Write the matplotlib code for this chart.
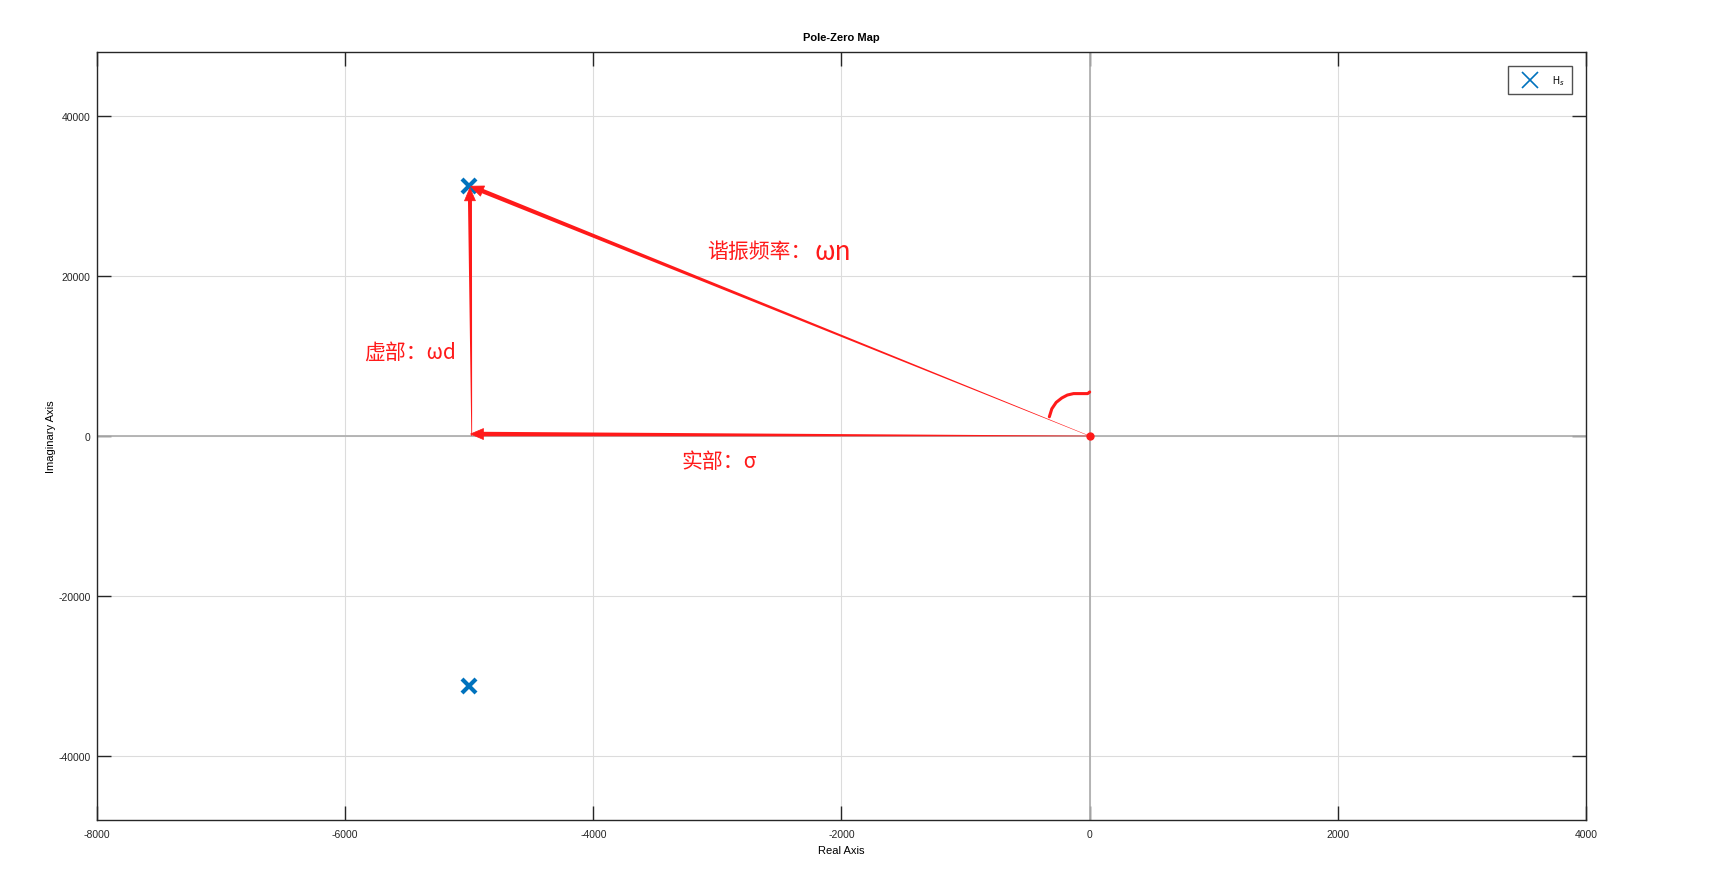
import numpy as np
import matplotlib
matplotlib.use("Agg")
import matplotlib.pyplot as plt
from matplotlib.lines import Line2D
from matplotlib.patches import Polygon

plt.rcParams['font.family'] = ['Liberation Sans', 'DejaVu Sans']
plt.rcParams['axes.unicode_minus'] = False

# ---- data ----
pole_re = [-5000, -5000]
pole_im = [31225, -31225]
xlim = [-8000, 4000]
ylim = [-48000, 48000]
xticks = [-8000, -6000, -4000, -2000, 0, 2000, 4000]
yticks = [-40000, -20000, 0, 20000, 40000]
legend_label = 'H$_s$'
label_wn_a = '谐振频率：'
label_wn_b = 'ωn'
label_wd = '虚部：ωd'
label_sigma = '实部：σ'
label_pos_wn = (-3080, 23100)
label_pos_wn_b = (-2215, 23100)
label_pos_wd = (-5850, 10600)
label_pos_sigma = (-3290, -3100)
arc_x = [-325, -305, -270, -225, -180, -130, -16, 0]
arc_y = [2400, 3400, 4200, 4750, 5120, 5300, 5300, 5500]

W, H, DPI = 1714, 887, 100
fig = plt.figure(figsize=(W / DPI, H / DPI), dpi=DPI)
ax = fig.add_axes([97 / W, 1 - 821 / H, (1586 - 97) / W, (821 - 53) / H])

ax.set_xlim(xlim)
ax.set_ylim(ylim)
ax.set_xticks(xticks)
ax.set_yticks(yticks)
ax.tick_params(direction='in', length=10, width=1.0, top=True, right=True,
               labelsize=7.5, colors='#262626')
ax.tick_params(axis='x', pad=6.5)
ax.tick_params(axis='y', pad=4.5)
ax.grid(True, color='#dcdcdc', linewidth=0.8)
ax.set_axisbelow(True)
for s in ax.spines.values():
    s.set_color('#262626')
    s.set_linewidth(1.0)
ax.axhline(0, color='#b0b0b0', linewidth=1.3, zorder=1)
ax.axvline(0, color='#b0b0b0', linewidth=1.3, zorder=1)

ax.set_title('Pole-Zero Map', fontsize=8, fontweight='bold', pad=9)
ax.set_xlabel('Real Axis', fontsize=8, labelpad=4)
ax.set_ylabel('Imaginary Axis', fontsize=8, labelpad=2)

ax.plot(pole_re, pole_im, linestyle='none', marker='x', color='#0072BD',
        markersize=10, markeredgewidth=3, zorder=5)

red = '#ff1a1a'


def tapered_arrow(p0, p1, w0, w1, head_len=13, head_w=11):
    T = ax.transData
    a = np.array(T.transform(p0))
    b = np.array(T.transform(p1))
    d = b - a
    L = np.hypot(*d)
    u = d / L
    n = np.array([-u[1], u[0]])
    bb = b - u * head_len * 0.9
    body = [a + n * w0 / 2, bb + n * w1 / 2, bb - n * w1 / 2, a - n * w0 / 2]
    fig.add_artist(Polygon(body, closed=True, transform=None, facecolor=red,
                           edgecolor='none', zorder=6))
    hb = b - u * head_len
    head = [b, hb + n * head_w / 2, hb - n * head_w / 2]
    fig.add_artist(Polygon(head, closed=True, transform=None, facecolor=red,
                           edgecolor=red, linewidth=0.5, zorder=7))


tapered_arrow((0, 0), (pole_re[0] + 10, pole_im[0]), 0.4, 4.5)
tapered_arrow((0, 0), (pole_re[0] + 10, 250), 0.6, 4.5)
tapered_arrow((pole_re[0] + 20, 0), (pole_re[0] + 5, pole_im[0] - 200), 0.8, 4.0)

ax.plot([0], [0], marker='o', color=red, markersize=5, zorder=8)
ax.plot(arc_x, arc_y, color=red, linewidth=2.2, solid_capstyle='round', zorder=8)

fp = ['Noto Sans CJK SC', 'DejaVu Sans']
for s, (x, y), fs in [(label_wn_a, label_pos_wn, 15), (label_wn_b, label_pos_wn_b, 19),
                      (label_wd, label_pos_wd, 15), (label_sigma, label_pos_sigma, 15)]:
    ax.text(x, y, s, color=red, fontsize=fs, family=fp, ha='left', va='center',
            zorder=9)

handle = Line2D([], [], linestyle='none', marker='x', color='#0072BD',
                markersize=11, markeredgewidth=1.2)
leg = ax.legend([handle], [legend_label], loc='upper right', fontsize=7,
                frameon=True, fancybox=False, edgecolor='#262626',
                bbox_to_anchor=(1572 / W, 1 - 67 / H), bbox_transform=fig.transFigure,
                borderaxespad=0, handlelength=3.0, borderpad=0.75, handletextpad=0.8)
leg.get_frame().set_linewidth(1.0)

fig.savefig('out.png', dpi=DPI, facecolor='white')
